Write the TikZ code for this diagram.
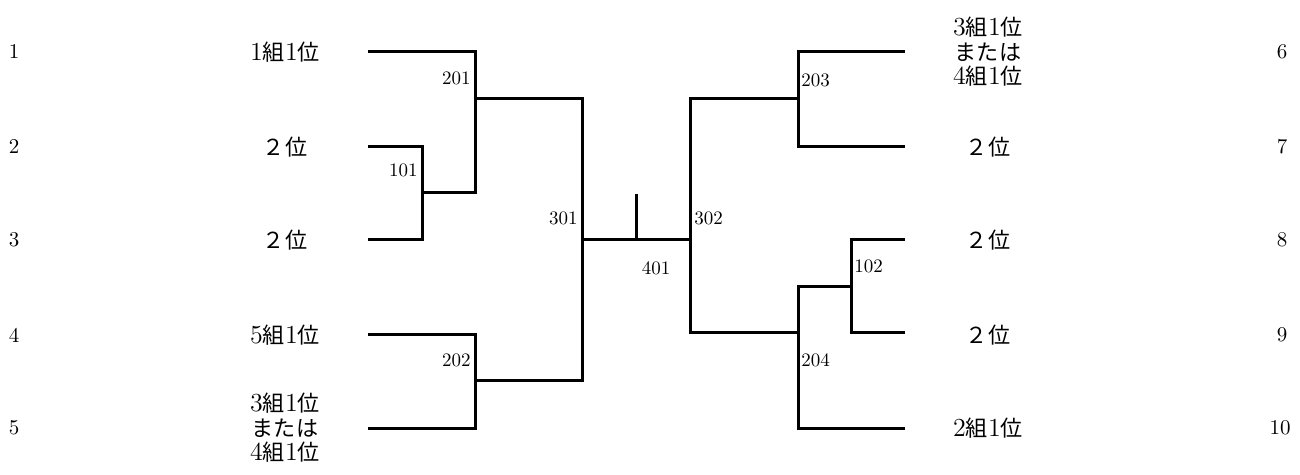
\documentclass[tikz,border=0pt]{standalone}
\usepackage{fontspec}
\newfontfamily\jp[Scale=0.85]{Noto Sans CJK JP}
\begin{document}
\begin{tikzpicture}[x=0.5pt,y=-0.5pt]
\tikzstyle{team}=[font=\fontsize{13}{12.25}\selectfont,align=center,inner sep=0pt]
\tikzstyle{seed}=[font=\fontsize{10.5}{12}\selectfont,inner sep=0pt]
\tikzstyle{game}=[font=\fontsize{9.5}{11}\selectfont,inner sep=0pt]
\tikzstyle{bracket}=[line width=1.5pt]
\useasboundingbox (0,0) rectangle (1300,475);

% left side
\path (14,52) node[seed](n1){1} (14,147) node[seed](n2){2} (14,240) node[seed](n3){3}
      (14,335) node[seed](n4){4} (14,428) node[seed](n5){5};
\path (285,52) node[team](t1){1{\jp 組}1{\jp 位}}
      (285,147) node[team](t2){{\jp ２位}}
      (285,240) node[team](t3){{\jp ２位}}
      (285,335) node[team](t4){5{\jp 組}1{\jp 位}}
      (285,428) node[team](t5){3{\jp 組}1{\jp 位}\\{\jp または}\\4{\jp 組}1{\jp 位}};
\path (368,52) coordinate(l1) (368,147) coordinate(l2) (368,240) coordinate(l3)
      (368,335) coordinate(l4) (368,428) coordinate(l5);
\path (422,193) coordinate(c101) (475,99) coordinate(c201) (475,381) coordinate(c202)
      (582,240) coordinate(c301) (636,240) coordinate(c401) (636,194) coordinate(top401);

% right side
\path (1282,52) node[seed](n6){6} (1282,147) node[seed](n7){7} (1282,240) node[seed](n8){8}
      (1282,335) node[seed](n9){9} (1280,428) node[seed](n10){10};
\path (988,52) node[team](t6){3{\jp 組}1{\jp 位}\\{\jp または}\\4{\jp 組}1{\jp 位}}
      (988,147) node[team](t7){{\jp ２位}}
      (988,240) node[team](t8){{\jp ２位}}
      (988,335) node[team](t9){{\jp ２位}}
      (988,428) node[team](t10){2{\jp 組}1{\jp 位}};
\path (905,52) coordinate(r6) (905,147) coordinate(r7) (905,240) coordinate(r8)
      (905,333) coordinate(r9) (905,428) coordinate(r10);
\path (851,287) coordinate(c102) (798,99) coordinate(c203) (798,333) coordinate(c204)
      (690,240) coordinate(c302);

% brackets
\draw[bracket] (l2) -| (c101) |- (l3);
\draw[bracket] (l1) -| (c201) |- (c101);
\draw[bracket] (l4) -| (c202) |- (l5);
\draw[bracket] (c201) -| (c301) |- (c202);
\draw[bracket] (c301) -- (c302);
\draw[bracket] (top401) -- (c401);
\draw[bracket] (c203) -| (c302) |- (c204);
\draw[bracket] (r6) -| (c203) |- (r7);
\draw[bracket] (c102) -| (c204) |- (r10);
\draw[bracket] (r8) -| (c102) |- (r9);

% game numbers
\node[game,anchor=east](g101) at (418,170) {101};
\node[game,anchor=east](g201) at (471,78) {201};
\node[game,anchor=east](g202) at (471,360) {202};
\node[game,anchor=east](g301) at (578,218) {301};
\node[game](g401) at (656,268) {401};
\node[game,anchor=west](g302) at (694,218) {302};
\node[game,anchor=west](g203) at (801,80) {203};
\node[game,anchor=west](g204) at (801,360) {204};
\node[game,anchor=west](g102) at (854,266) {102};
\end{tikzpicture}
\end{document}
